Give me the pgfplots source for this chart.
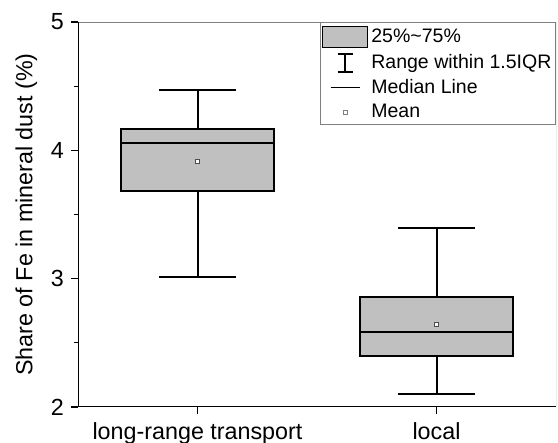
\documentclass[border=0pt]{standalone}
\usepackage{fontspec}
\setmainfont{Liberation Sans}
\usepackage{pgfplots}
\pgfplotsset{compat=1.18}
\usepgfplotslibrary{statistics}
\definecolor{boxgray}{HTML}{C0C0C0}
\definecolor{framegray}{HTML}{808080}
\begin{document}
\begin{tikzpicture}
\path[use as bounding box] (0,0) rectangle (279bp,221.5bp);
\begin{axis}[
  at={(39bp,18bp)}, anchor=south west,
  scale only axis, width=239bp, height=192.5bp,
  xmin=0.5, xmax=2.5, ymin=2, ymax=5,
  xtick={1,2}, xticklabels={long-range transport, local},
  ytick={2,3,4,5}, minor ytick={2.5,3.5,4.5},
  tick align=outside, xtick pos=bottom, ytick pos=left,
  major tick length=3.5bp, minor tick length=2bp,
  tick style={black, line width=0.6bp},
  axis line style={draw=none},
  /pgf/number format/assume math mode=true,
  ylabel={Share of Fe in mineral dust (\%)},
  font=\fontsize{11.7}{14}\selectfont,
  ticklabel style={font=\fontsize{11.7}{14}\selectfont},
  label style={font=\fontsize{11.7}{14}\selectfont},
  xticklabel style={yshift=-1bp},
  boxplot/draw direction=y,
  legend style={at={(rel axis cs:1,1)}, anchor=north east, draw=framegray, line width=0.5bp,
    font=\fontsize{9.8}{11.5}\selectfont, inner xsep=0.5bp, inner ysep=1.5bp, row sep=2.6bp,
    cells={anchor=west}, nodes={inner xsep=1.5bp, inner ysep=0.6bp}},
]
\draw[framegray, line width=0.5bp] (rel axis cs:0,1) -- (rel axis cs:1,1) -- (rel axis cs:1,0);
\draw[black, line width=1bp] (rel axis cs:0,1) -- (rel axis cs:0,0) -- (rel axis cs:1,0);

\addlegendimage{legend image code/.code={\draw[fill=boxgray, draw=black, line width=0.8bp] (0bp,-5.25bp) rectangle (22.5bp,5.25bp);}}
\addlegendentry{25\%\textasciitilde 75\%}
\addlegendimage{legend image code/.code={\draw[black, line width=0.6bp] (11.25bp,-4.5bp) -- (11.25bp,4.5bp) (7.5bp,4.5bp) -- (15bp,4.5bp) (7.5bp,-4.5bp) -- (15bp,-4.5bp); \path[draw=none] (0bp,0bp) -- (22.5bp,0bp);}}
\addlegendentry{Range within 1.5IQR}
\addlegendimage{legend image code/.code={\draw[black, line width=0.6bp] (4bp,0bp) -- (18.5bp,0bp); \path[draw=none] (0bp,0bp) -- (22.5bp,0bp);}}
\addlegendentry{Median Line}
\addlegendimage{legend image code/.code={\draw[framegray, fill=white, line width=0.4bp] (10.5bp,-0.9bp) rectangle (12.3bp,0.9bp); \path[draw=none] (0bp,0bp) -- (22.5bp,0bp);}}
\addlegendentry{Mean}

\addplot[boxplot prepared={draw position=1, lower whisker=3.01, lower quartile=3.68, median=4.06, upper quartile=4.17, upper whisker=4.47, box extend=0.64, whisker extend=0.32}, draw=black, fill=boxgray, line width=1bp, solid, forget plot] coordinates {};
\addplot[boxplot prepared={draw position=2, lower whisker=2.10, lower quartile=2.40, median=2.585, upper quartile=2.86, upper whisker=3.395, box extend=0.64, whisker extend=0.32}, draw=black, fill=boxgray, line width=1bp, solid, forget plot] coordinates {};
\addplot[only marks, mark=square*, mark size=1bp, mark options={draw=black!70, fill=white, line width=0.4bp}, forget plot] coordinates {(1,3.91) (2,2.64)};
\end{axis}
\end{tikzpicture}
\end{document}
